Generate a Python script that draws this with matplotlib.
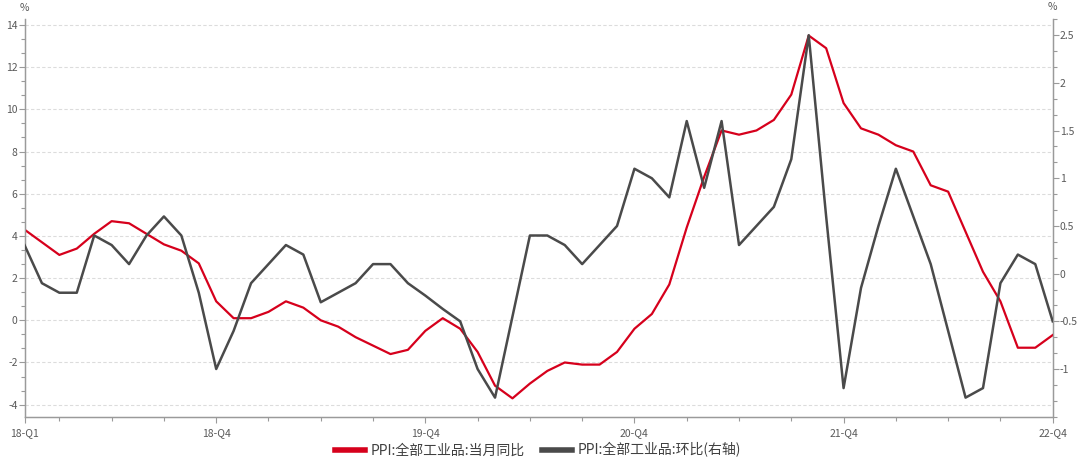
import matplotlib
matplotlib.use("Agg")
import matplotlib.pyplot as plt
from matplotlib.ticker import MultipleLocator, FixedLocator
import numpy as np

plt.rcParams['font.family'] = ['Noto Sans CJK SC', 'DejaVu Sans']

months = [f"{y}-{m:02d}" for y in range(2018, 2023) for m in range(1, 13)]

yoy = [4.3, 3.7, 3.1, 3.4, 4.1, 4.7, 4.6, 4.1, 3.6, 3.3, 2.7, 0.9,
       0.1, 0.1, 0.4, 0.9, 0.6, 0.0, -0.3, -0.8, -1.2, -1.6, -1.4, -0.5,
       0.1, -0.4, -1.5, -3.1, -3.7, -3.0, -2.4, -2.0, -2.1, -2.1, -1.5, -0.4,
       0.3, 1.7, 4.4, 6.8, 9.0, 8.8, 9.0, 9.5, 10.7, 13.5, 12.9, 10.3,
       9.1, 8.8, 8.3, 8.0, 6.4, 6.1, 4.2, 2.3, 0.9, -1.3, -1.3, -0.7]

mom = [0.3, -0.1, -0.2, -0.2, 0.4, 0.3, 0.1, 0.4, 0.6, 0.4, -0.2, -1.0,
       -0.6, -0.1, 0.1, 0.3, 0.2, -0.3, -0.2, -0.1, 0.1, 0.1, -0.1, -0.23,
       -0.37, -0.5, -1.0, -1.3, -0.45, 0.4, 0.4, 0.3, 0.1, 0.3, 0.5, 1.1,
       1.0, 0.8, 1.6, 0.9, 1.6, 0.3, 0.5, 0.7, 1.2, 2.5, 0.6, -1.2,
       -0.15, 0.5, 1.1, 0.6, 0.1, -0.6, -1.3, -1.2, -0.1, 0.2, 0.1, -0.5]

tick_labels = ["18-Q1", "18-Q4", "19-Q4", "20-Q4", "21-Q4", "22-Q4"]
tick_months = ["2018-01", "2018-12", "2019-12", "2020-12", "2021-12", "2022-12"]

left_ticks = [-4, -2, 0, 2, 4, 6, 8, 10, 12, 14]
right_ticks = [-1, -0.5, 0, 0.5, 1, 1.5, 2, 2.5]

name_yoy = "PPI:全部工业品:当月同比"
name_mom = "PPI:全部工业品:环比(右轴)"

RED = "#D6001C"
GRAY = "#4A4A4A"
AXC = "#9A9A9A"
TXC = "#595959"

fig = plt.figure(figsize=(10.8, 4.59), dpi=100)
ax = fig.add_axes([24.5/1080, 1-416.7/459, (1052.7-24.5)/1080, (416.7-19.3)/459])
ax2 = ax.twinx()

x = np.arange(len(months))
l1, = ax.plot(x, yoy, color=RED, lw=1.6, zorder=3)
l2, = ax2.plot(x, mom, color=GRAY, lw=1.8, zorder=3)

ax.set_xlim(0, len(months) - 1)
ax.set_ylim(-4.57, 14.27)
ax2.set_ylim(-1.5, 2.667)

ax.set_yticks(left_ticks)
ax.yaxis.set_minor_locator(MultipleLocator(2/3))
ax2.set_yticks(right_ticks)
ax2.yaxis.set_minor_locator(MultipleLocator(1/6))

pos = [months.index(m) for m in tick_months]
ax.set_xticks(pos)
ax.set_xticklabels(tick_labels)
quarter_pos = [i for i, m in enumerate(months) if int(m[5:]) % 3 == 0]
ax.xaxis.set_minor_locator(FixedLocator(quarter_pos))

ax.grid(axis='y', which='major', color='#DCDCDC', linestyle=(0, (3, 2)), lw=0.8)
ax.set_axisbelow(True)

for a in (ax, ax2):
    a.spines['top'].set_visible(False)
    for s in ('left', 'right', 'bottom'):
        a.spines[s].set_color(AXC)
        a.spines[s].set_linewidth(0.9)
    a.tick_params(which='both', colors=AXC, labelcolor=TXC, labelsize=7.5, width=0.8)
    a.tick_params(which='major', length=4)
    a.tick_params(which='minor', length=3)

ax.tick_params(axis='y', pad=1)
ax2.tick_params(axis='y', pad=1)
ax.tick_params(axis='x', pad=4)

ax.set_yticklabels([f"{v:g}" for v in left_ticks])
ax2.set_yticklabels([f"{v:g}" for v in right_ticks])

fig.text(24.5/1080, 1-8/459, "%", ha='center', va='center', fontsize=7.5, color=TXC)
fig.text(1052.7/1080, 1-7/459, "%", ha='center', va='center', fontsize=7.5, color=TXC)

leg = fig.legend([l1, l2], [name_yoy, name_mom], loc='center', bbox_to_anchor=(538/1080, 1-450/459),
                 ncol=2, frameon=False, fontsize=10, handlelength=2.2, handletextpad=0.4,
                 columnspacing=1.2, labelcolor='#404040')
for h in leg.legend_handles:
    h.set_linewidth(4)

fig.savefig("out.png", dpi=100)
